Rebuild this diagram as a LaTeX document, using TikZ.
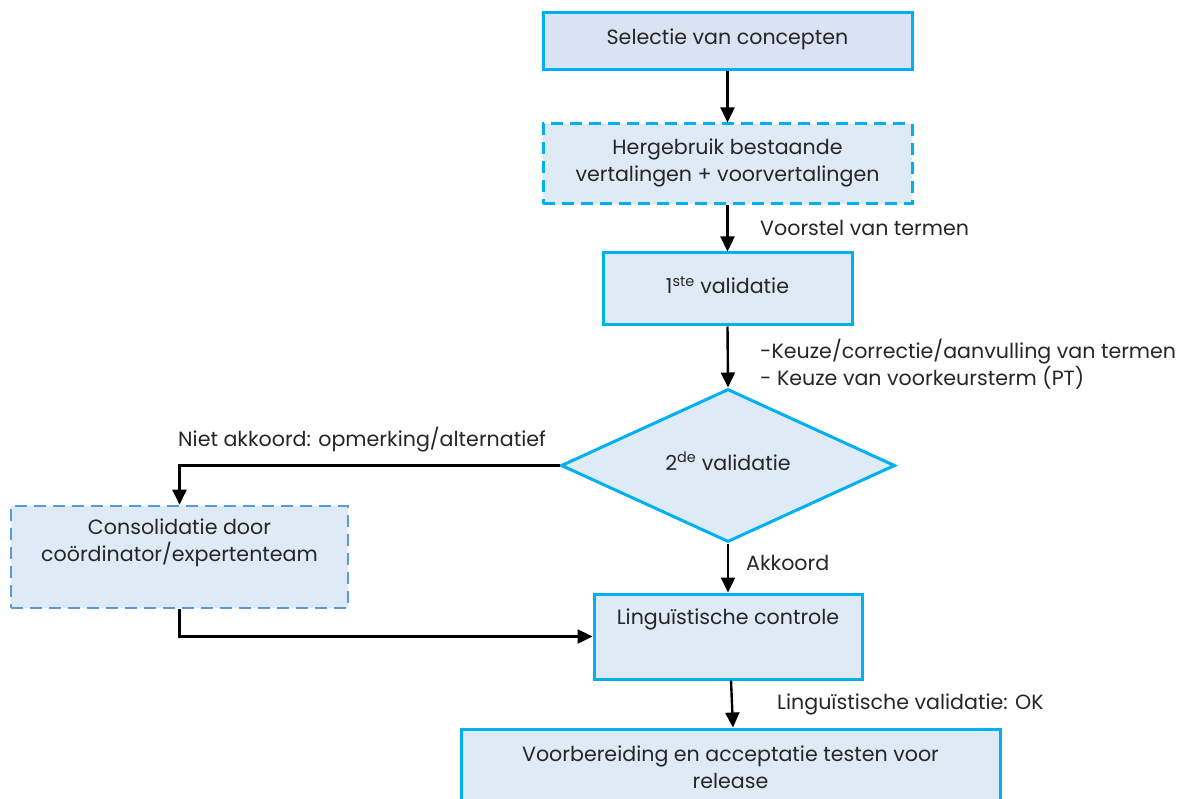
\documentclass[tikz,border=0pt]{standalone}
\usepackage{fontspec}
\setmainfont{Poppins}
\usetikzlibrary{arrows.meta,shapes.geometric}
\definecolor{cyanb}{HTML}{00B0F0}
\definecolor{midb}{HTML}{5B9BD5}
\definecolor{fillA}{HTML}{DAE3F3}
\definecolor{fillB}{HTML}{DEEBF7}
\begin{document}
\begin{tikzpicture}[x=1pt,y=-1pt,
  box/.style={draw=cyanb, line width=3pt, fill=fillB, inner sep=0pt},
  dbox/.style={box, dash pattern=on 12pt off 7pt},
  cbox/.style={draw=midb, line width=2.6pt, fill=fillB, inner sep=0pt, dash pattern=on 12pt off 7pt},
  txt/.style={font=\fontsize{20.6}{26.5}\selectfont, align=center, inner sep=0pt, text=black!85},
  lbl/.style={font=\fontsize{20.6}{26.5}\selectfont, inner sep=0pt, anchor=west, align=left, text=black!85},
  arr/.style={line width=2.4pt, -{Triangle[length=15pt,width=14pt]}}]
\useasboundingbox (0,0) rectangle (1183,799);
\clip (0,0) rectangle (1183,799);
% shapes
\node[box, fill=fillA, minimum width=369pt, minimum height=57pt] (b1) at (727.5,41.5) {};
\node[dbox, minimum width=369pt, minimum height=80pt] (b2) at (727.5,164) {};
\node[box, minimum width=249pt, minimum height=72pt] (b3) at (727.5,289) {};
\node[box, diamond, aspect=2.18, minimum width=334pt, minimum height=153pt] (dia) at (728,465.5) {};
\node[cbox, minimum width=337pt, minimum height=102pt] (cons) at (179.5,557) {};
\node[box, minimum width=268pt, minimum height=85pt] (ling) at (728,636.5) {};
\node[box, minimum width=539pt, minimum height=90pt] (fin) at (730.5,774) {};
% texts
\node[txt] (t1) at (727.5,39) {Selectie van concepten};
\node[txt] (t2) at (727.5,163) {Hergebruik bestaande\\vertalingen + voorvertalingen};
\node[txt] (t3) at (727.5,285) {1\textsuperscript{ste} validatie};
\node[txt] (t4) at (728,461) {2\textsuperscript{de} validatie};
\node[txt] (t5) at (179.5,543) {Consolidatie door\\coördinator/expertenteam};
\node[txt] (t6) at (728,619) {Linguïstische controle};
\node[txt] (t7) at (730.5,767) {Voorbereiding en acceptatie testen voor\\release};
% connectors
\draw[arr] (b1.south) -- (b2.north);
\draw[arr] (b2.south) -- (b3.north);
\draw[arr] (b3.south) -- (dia.north);
\draw[arr] (dia.west) -| (cons.north);
\draw[arr] (dia.south) -- (ling.north);
\draw[arr] (cons.south) |- (ling.west);
\draw[arr] ([xshift=3pt]ling.south) -- ([xshift=2.5pt]fin.north);
% labels
\node[lbl] (l1) at (760,228) {Voorstel van termen};
\node[lbl] (l2) at (760,364) {-Keuze/correctie/aanvulling van termen\\- Keuze van voorkeursterm (PT)};
\node[lbl] (l3) at (178,440) {Niet akkoord: opmerking/alternatief};
\node[lbl] (l4) at (746,563) {Akkoord};
\node[lbl] (l5) at (777,704) {Linguïstische validatie: OK};
\end{tikzpicture}
\end{document}
